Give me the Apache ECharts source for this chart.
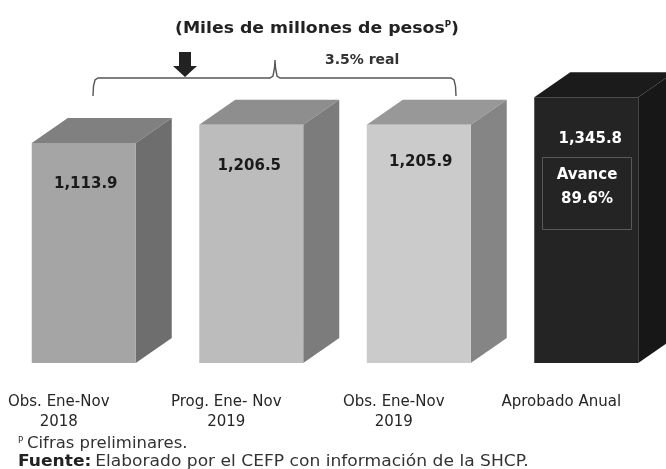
<!DOCTYPE html>
<html>
<head>
<meta charset="utf-8">
<style>
html, body { margin: 0; padding: 0; background: #fff; }
#chart { width: 666px; height: 469px; filter: blur(0.45px); }
</style>
<script src="https://cdn.jsdelivr.net/npm/echarts@6/dist/echarts.min.js"></script>
</head>
<body>
<div id="chart"></div>
<script>
const categories = ['Obs. Ene-Nov\n2018', 'Prog. Ene- Nov\n2019', 'Obs. Ene-Nov\n2019', 'Aprobado Anual\n '];
const values = [1113.9, 1206.5, 1205.9, 1345.8];
const valueLabels = ['1,113.9', '1,206.5', '1,205.9', '1,345.8'];

const frontColors = ['#a5a5a5', '#bcbcbc', '#cbcbcb', '#242424'];
const topColors = ['#808080', '#8e8e8e', '#989898', '#1b1b1b'];
const sideColors = ['#6e6e6e', '#7c7c7c', '#858585', '#171717'];
const labelColors = ['#1a1a1a', '#1a1a1a', '#1a1a1a', '#ffffff'];
// label offset from the bar's top centre, the source does not line them up
const labelShiftX = [2, -2, 2, 4];
const labelShiftY = [41, 41, 37, 42];

const fontFamily = '"DejaVu Sans", sans-serif';
const barWidth = 104;
const depthX = 36;
const depthY = 25;

const myChart = echarts.init(document.getElementById('chart'), null, { renderer: 'canvas' });

const renderBar = (params, api) => {
    const i = api.value(0);
    const top = api.coord([i, api.value(1)]);
    const base = api.coord([i, 0]);
    const x0 = top[0] - barWidth / 2;
    const x1 = top[0] + barWidth / 2;
    return {
        type: 'group',
        children: [
            {
                type: 'polygon',
                shape: { points: [[x0, top[1]], [x0 + depthX, top[1] - depthY], [x1 + depthX, top[1] - depthY], [x1, top[1]]] },
                style: { fill: topColors[i] }
            },
            {
                type: 'polygon',
                shape: { points: [[x1, top[1]], [x1 + depthX, top[1] - depthY], [x1 + depthX, base[1] - depthY], [x1, base[1]]] },
                style: { fill: sideColors[i] }
            },
            {
                type: 'rect',
                shape: { x: x0, y: top[1], width: barWidth, height: base[1] - top[1] },
                style: { fill: frontColors[i] }
            },
            {
                type: 'text',
                x: top[0] + labelShiftX[i],
                y: top[1] + labelShiftY[i],
                style: {
                    text: valueLabels[i],
                    fill: labelColors[i],
                    font: 'bold 15px ' + fontFamily,
                    align: 'center',
                    verticalAlign: 'middle'
                }
            }
        ]
    };
};

const option = {
    animation: false,
    grid: { left: 0, width: 670, top: 0, bottom: 106, outerBoundsMode: 'none' },
    xAxis: {
        type: 'category',
        data: categories,
        axisLine: { show: false },
        axisTick: { show: false },
        axisLabel: {
            interval: 0,
            margin: 29,
            color: '#262626',
            fontFamily: fontFamily,
            fontSize: 15,
            lineHeight: 20,
            padding: [0, 50, 0, 0]
        }
    },
    yAxis: {
        type: 'value',
        min: 0,
        max: 1838,
        show: false
    },
    series: [{
        type: 'custom',
        renderItem: renderBar,
        clip: false,
        data: values.map((v, i) => [i, v])
    }],
    graphic: [
        {
            type: 'text', x: 175, y: 29, scaleX: 1.08,
            style: {
                text: '{t|(Miles de millones de pesos}{s|P}{t|)}',
                verticalAlign: 'middle',
                rich: {
                    t: { font: 'bold 16px ' + fontFamily, fill: '#222' },
                    s: { font: 'bold 8px ' + fontFamily, fill: '#222', verticalAlign: 'top', padding: [0, 0, 6, 0] }
                }
            }
        },
        {
            type: 'text', x: 325, y: 60,
            style: { text: '3.5% real', font: 'bold 14px ' + fontFamily, fill: '#333', verticalAlign: 'middle' }
        },
        {
            // brace above the first three bars
            type: 'polyline',
            shape: { points: [[93, 96], [93.5, 86], [95, 80], [98, 78], [270, 78], [273, 76], [274.5, 68], [275, 60], [275.5, 68], [277, 76], [280, 78], [451, 78], [454, 80], [455.5, 86], [456, 96]] },
            style: { fill: 'none', stroke: '#555', lineWidth: 1.4 }
        },
        {
            type: 'polygon',
            shape: { points: [[179, 52], [191, 52], [191, 66], [197, 66], [185, 77], [173, 66], [179, 66]] },
            style: { fill: '#222' }
        },
        {
            type: 'rect', z: 100,
            shape: { x: 542.5, y: 157.5, width: 89, height: 72 },
            style: { fill: 'none', stroke: '#5a5a5a', lineWidth: 1 }
        },
        {
            type: 'text', x: 587, y: 187, z: 100,
            style: {
                text: 'Avance\n89.6%',
                font: 'bold 15px ' + fontFamily,
                lineHeight: 24,
                fill: '#fff',
                align: 'center',
                verticalAlign: 'middle'
            }
        },
        {
            type: 'text', x: 18, y: 444, scaleX: 1.1,
            style: {
                text: '{s|P} {t|Cifras preliminares.}',
                verticalAlign: 'middle',
                rich: {
                    t: { font: '15px ' + fontFamily, fill: '#333' },
                    s: { font: '8px ' + fontFamily, fill: '#333', padding: [0, 0, 6, 0] }
                }
            }
        },
        {
            type: 'text', x: 18, y: 462, scaleX: 1.14,
            style: {
                text: '{b|Fuente:} {t|Elaborado por el CEFP con información de la SHCP.}',
                verticalAlign: 'middle',
                rich: {
                    b: { font: 'bold 15px ' + fontFamily, fill: '#222' },
                    t: { font: '15px ' + fontFamily, fill: '#333' }
                }
            }
        }
    ]
};
myChart.setOption(option);
</script>
</body>
</html>
